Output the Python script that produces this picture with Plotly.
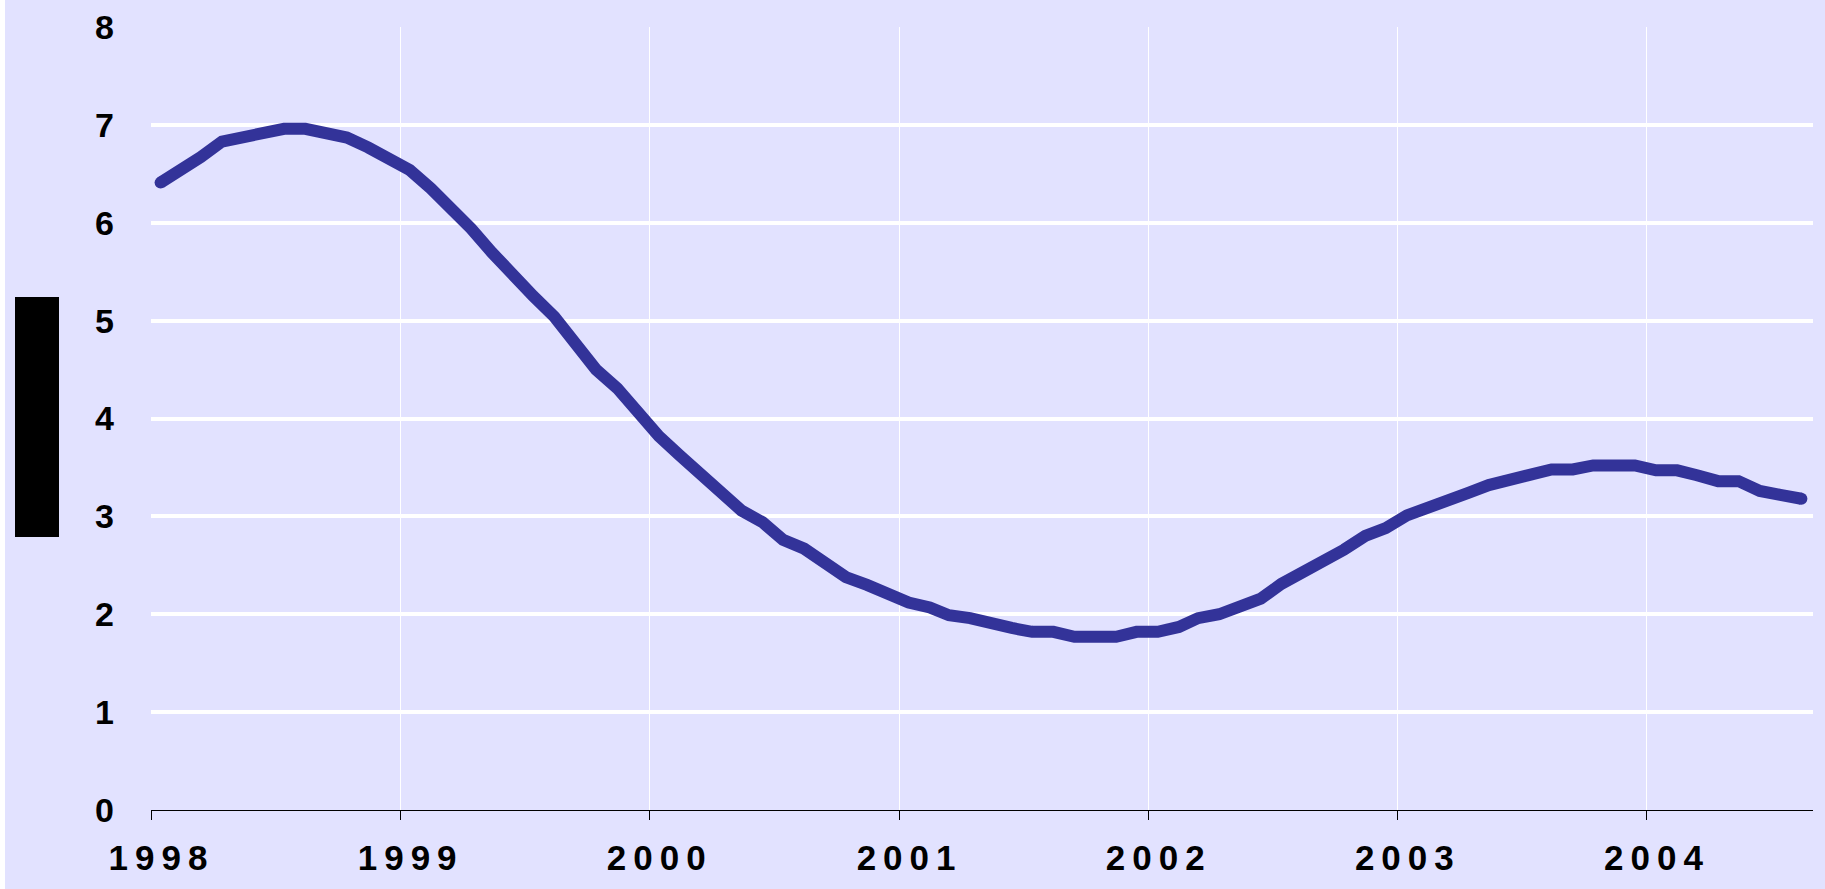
import pandas as pd
import plotly.graph_objects as go

# ---- data (monthly, Jan 1998 - Aug 2004) ----
rate_1998 = [6.41, 6.54, 6.67, 6.83, 6.87, 6.91, 6.96, 6.96, 6.91, 6.87, 6.77, 6.65]
rate_1999 = [6.54, 6.35, 6.16, 5.94, 5.70, 5.45, 5.25, 5.04, 4.74, 4.50, 4.31, 4.05]
rate_2000 = [3.82, 3.62, 3.44, 3.22, 3.06, 2.94, 2.76, 2.67, 2.54, 2.38, 2.30, 2.21]
rate_2001 = [2.12, 2.07, 1.99, 1.96, 1.90, 1.86, 1.82, 1.82, 1.77, 1.77, 1.77, 1.82]
rate_2002 = [1.82, 1.87, 1.96, 2.00, 2.08, 2.16, 2.31, 2.42, 2.56, 2.66, 2.80, 2.88]
rate_2003 = [3.01, 3.10, 3.18, 3.24, 3.32, 3.38, 3.43, 3.48, 3.48, 3.52, 3.52, 3.52]
rate_2004 = [3.47, 3.47, 3.42, 3.36, 3.36, 3.26, 3.22, 3.18]

values = rate_1998 + rate_1999 + rate_2000 + rate_2001 + rate_2002 + rate_2003 + rate_2004
months = pd.date_range("1998-01-01", periods=len(values), freq="MS") + pd.Timedelta(days=14)

year_ticks = ["1998-01-01", "1999-01-01", "2000-01-01", "2001-01-01",
              "2002-01-01", "2003-01-01", "2004-01-01"]
year_labels = ["1998", "1999", "2000", "2001", "2002", "2003", "2004"]
y_ticks = [0, 1, 2, 3, 4, 5, 6, 7, 8]

BG = "#E2E2FF"
LINE = "#333399"
FONT = "Liberation Sans, Arial, sans-serif"
THIN = "\u2009"

fig = go.Figure()
fig.add_trace(go.Scatter(
    x=months, y=values, mode="lines",
    line=dict(color=LINE, width=12),
    hoverinfo="x+y", showlegend=False,
))
# rounded line ends
fig.add_trace(go.Scatter(
    x=[months[0], months[-1]], y=[values[0], values[-1]], mode="markers",
    marker=dict(color=LINE, size=12, line=dict(width=0)),
    hoverinfo="skip", showlegend=False,
))

W, H = 1825, 889
L, R, T, B = 151, 12, 27, 79
pw, ph = W - L - R, H - T - B

def px_x(p):
    return (p - L) / pw

def px_y(p):
    return (H - B - p) / ph

fig.update_layout(
    width=W, height=H,
    margin=dict(l=L, r=R, t=T, b=B, pad=0, autoexpand=False),
    paper_bgcolor=BG, plot_bgcolor=BG,
    font=dict(family=FONT, color="black"),
    xaxis=dict(
        type="date", automargin=False,
        range=["1998-01-01", "2004-09-01"],
        tickmode="array", tickvals=year_ticks,
        ticktext=[THIN.join(list(s)) for s in year_labels],
        tickfont=dict(family=FONT, size=35, weight="bold", color="black"),
        ticks="outside", ticklen=9, tickwidth=1, tickcolor="black",
        ticklabelstandoff=8, ticklabelshift=7,
        showline=True, linecolor="black", linewidth=1,
        showgrid=True, gridcolor="white", gridwidth=1,
        zeroline=False, fixedrange=True,
    ),
    yaxis=dict(
        automargin=False,
        range=[0, 8], tickmode="array", tickvals=y_ticks,
        tickfont=dict(family=FONT, size=34, weight="bold", color="black"),
        ticks="", ticklabelstandoff=36,
        showline=False, zeroline=False,
        showgrid=True, gridcolor="white", gridwidth=3.5,
        fixedrange=True,
    ),
    shapes=[
        dict(type="rect", xref="paper", yref="paper",
             x0=px_x(15), x1=px_x(59), y0=px_y(537), y1=px_y(297),
             fillcolor="black", line=dict(width=0), layer="above"),
        dict(type="rect", xref="paper", yref="paper",
             x0=px_x(0), x1=px_x(5), y0=px_y(H), y1=px_y(0),
             fillcolor="white", line=dict(width=0), layer="above"),
    ],
)

fig.write_html("out.html", config={"displayModeBar": False},
               post_script="document.body.style.margin='0';")
